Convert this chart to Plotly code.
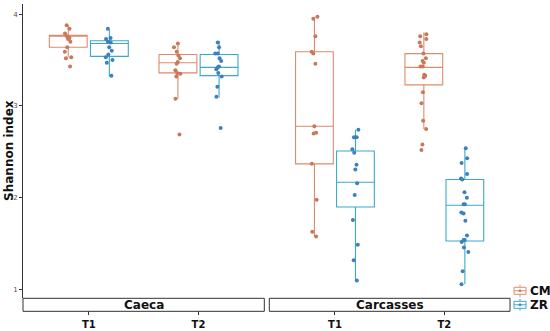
import plotly.graph_objects as go

# ---------------- data ----------------
times = ["T1", "T2"]
facets = ["Caeca", "Carcasses"]
series = ["CM", "ZR"]

# box statistics: [T1, T2] per facet
cm_caeca_q1 = [3.64, 3.36]
cm_caeca_med = [3.76, 3.47]
cm_caeca_q3 = [3.77, 3.56]
cm_caeca_lo = [3.53, 3.08]
cm_caeca_hi = [3.88, 3.68]

zr_caeca_q1 = [3.54, 3.33]
zr_caeca_med = [3.68, 3.42]
zr_caeca_q3 = [3.71, 3.56]
zr_caeca_lo = [3.32, 3.09]
zr_caeca_hi = [3.83, 3.71]

cm_carc_q1 = [2.37, 3.23]
cm_carc_med = [2.78, 3.42]
cm_carc_q3 = [3.59, 3.57]
cm_carc_lo = [1.58, 2.75]
cm_carc_hi = [3.97, 3.80]

zr_carc_q1 = [1.90, 1.53]
zr_carc_med = [2.17, 1.92]
zr_carc_q3 = [2.51, 2.20]
zr_carc_lo = [1.10, 1.06]
zr_carc_hi = [2.74, 2.54]

# individual samples
cm_caeca_t1 = [3.88, 3.84, 3.79, 3.76, 3.74, 3.73, 3.70, 3.64, 3.59, 3.53, 3.52, 3.43]
cm_caeca_t2 = [3.68, 3.64, 3.59, 3.55, 3.52, 3.48, 3.46, 3.39, 3.36, 3.35, 3.32, 3.08, 2.69]
zr_caeca_t1 = [3.84, 3.74, 3.73, 3.70, 3.69, 3.64, 3.60, 3.56, 3.53, 3.50, 3.47, 3.33]
zr_caeca_t2 = [3.69, 3.64, 3.57, 3.57, 3.52, 3.49, 3.43, 3.42, 3.40, 3.36, 3.32, 3.21, 3.10, 2.76]
cm_carc_t1 = [3.97, 3.95, 3.76, 3.59, 3.57, 3.46, 2.78, 2.71, 2.70, 2.37, 1.98, 1.63, 1.58]
cm_carc_t2 = [3.78, 3.76, 3.73, 3.69, 3.65, 3.57, 3.52, 3.49, 3.47, 3.43, 3.43, 3.34,
              3.33, 3.31, 3.15, 3.03, 2.84, 2.75, 2.58, 2.52]
zr_carc_t1 = [2.74, 2.66, 2.66, 2.53, 2.49, 2.36, 2.31, 2.16, 2.03, 1.76, 1.49, 1.32, 1.10]
zr_carc_t2 = [2.54, 2.43, 2.38, 2.26, 2.21, 2.20, 2.06, 2.00, 1.93, 1.93, 1.84, 1.83,
              1.75, 1.59, 1.54, 1.54, 1.52, 1.46, 1.41, 1.20, 1.06]

y_ticks = [1, 2, 3, 4]

# ---------------- styling ----------------
line_col = {"CM": "#DE8A6C", "ZR": "#3BA9CB"}
pt_col = {"CM": "#C9785A", "ZR": "#3C80BE"}
BOLD = dict(family="DejaVu Sans", color="#111111", weight="bold")

stats = {
    ("CM", "Caeca"): (cm_caeca_q1, cm_caeca_med, cm_caeca_q3, cm_caeca_lo, cm_caeca_hi),
    ("ZR", "Caeca"): (zr_caeca_q1, zr_caeca_med, zr_caeca_q3, zr_caeca_lo, zr_caeca_hi),
    ("CM", "Carcasses"): (cm_carc_q1, cm_carc_med, cm_carc_q3, cm_carc_lo, cm_carc_hi),
    ("ZR", "Carcasses"): (zr_carc_q1, zr_carc_med, zr_carc_q3, zr_carc_lo, zr_carc_hi),
}
points = {
    ("CM", "Caeca"): (cm_caeca_t1, cm_caeca_t2),
    ("ZR", "Caeca"): (zr_caeca_t1, zr_caeca_t2),
    ("CM", "Carcasses"): (cm_carc_t1, cm_carc_t2),
    ("ZR", "Carcasses"): (zr_carc_t1, zr_carc_t2),
}

fig = go.Figure()
for fi, facet in enumerate(facets):
    xa = "x" if fi == 0 else "x2"
    for s in series:
        q1, med, q3, lo, hi = stats[(s, facet)]
        fig.add_trace(go.Box(
            x=times, q1=q1, median=med, q3=q3, lowerfence=lo, upperfence=hi,
            name=s, showlegend=False, offsetgroup=s,
            xaxis=xa, yaxis="y",
            line=dict(color=line_col[s], width=1.1),
            fillcolor="rgba(255,255,255,0)", whiskerwidth=0,
            boxpoints=False, hoverinfo="skip",
        ))
        p1, p2 = points[(s, facet)]
        fig.add_trace(go.Box(
            x=[times[0]] * len(p1) + [times[1]] * len(p2), y=p1 + p2,
            name=s, showlegend=False, offsetgroup=s,
            xaxis=xa, yaxis="y",
            boxpoints="all", jitter=0.25, pointpos=0,
            marker=dict(color=pt_col[s], size=4),
            line=dict(width=0, color="rgba(0,0,0,0)"),
            fillcolor="rgba(0,0,0,0)", whiskerwidth=0, hoverinfo="y",
        ))

L, R, T, B = 23, 40, 4, 33.3
W, H = 550, 331
pw = W - L - R
ph = H - T - B
d1 = (264.3 - L) / pw
d2 = (269.3 - L) / pw


def px_x(px):
    return (px - L) / pw


def px_y(py):
    return (H - B - py) / ph


xcommon = dict(
    type="category", categoryorder="array", categoryarray=times,
    range=[-0.6, 1.6], showline=False, showgrid=False, zeroline=False,
    ticks="outside", ticklen=16, tickwidth=1, tickcolor="#333333",
    ticklabelstandoff=1,
    tickfont=dict(size=10, **BOLD),
    anchor="y", automargin=False,
)
fig.update_layout(
    width=W, height=H,
    margin=dict(l=L, r=R, t=T, b=B, pad=0, autoexpand=False),
    paper_bgcolor="white", plot_bgcolor="white",
    boxmode="group", boxgap=0.25, boxgroupgap=0.08,
    xaxis=dict(domain=[0, d1], **xcommon),
    xaxis2=dict(domain=[d2, 1], **xcommon),
    yaxis=dict(
        range=[0.91, 4.11], tickvals=y_ticks, showgrid=False, zeroline=False,
        showline=True, linecolor="#333333", linewidth=1, automargin=False,
        ticks="outside", ticklen=3, tickcolor="#333333",
        tickfont=dict(family="DejaVu Sans", size=7, color="#4d4d4d"),
        title=dict(text="Shannon index", standoff=2, font=dict(size=12, **BOLD)),
    ),
    showlegend=False,
)

# facet strips below the panels
strip_top = px_y(298.0)
strip_bot = px_y(311.0)
for fi, facet in enumerate(facets):
    x0, x1 = (0, d1) if fi == 0 else (d2, 1)
    fig.add_shape(type="rect", xref="paper", yref="paper",
                  x0=x0, x1=x1, y0=strip_bot, y1=strip_top,
                  line=dict(color="#333333", width=1), fillcolor="white", layer="above")
    fig.add_annotation(xref="paper", yref="paper", x=(x0 + x1) / 2,
                       y=(strip_top + strip_bot) / 2, text=facet, showarrow=False,
                       font=dict(size=12, **BOLD),
                       xanchor="center", yanchor="middle")

# legend (drawn as keys + text at the bottom right)
for i, s in enumerate(series):
    cy = 290.5 + 14 * i
    fig.add_shape(type="rect", xref="paper", yref="paper",
                  x0=px_x(514), x1=px_x(526), y0=px_y(cy + 3.5), y1=px_y(cy - 3.5),
                  line=dict(color=line_col[s], width=1), fillcolor="white", layer="above")
    fig.add_shape(type="line", xref="paper", yref="paper",
                  x0=px_x(514), x1=px_x(526), y0=px_y(cy), y1=px_y(cy),
                  line=dict(color=line_col[s], width=1), layer="above")
    for a, b in ((cy - 6, cy - 3.5), (cy + 3.5, cy + 6)):
        fig.add_shape(type="line", xref="paper", yref="paper",
                      x0=px_x(520), x1=px_x(520), y0=px_y(a), y1=px_y(b),
                      line=dict(color=line_col[s], width=1), layer="above")
    fig.add_shape(type="circle", xref="paper", yref="paper",
                  x0=px_x(518.6), x1=px_x(521.4), y0=px_y(cy + 1.4), y1=px_y(cy - 1.4),
                  line=dict(color=pt_col[s], width=0), fillcolor=pt_col[s], layer="above")
    fig.add_annotation(xref="paper", yref="paper", x=px_x(528), y=px_y(cy),
                       text=s, showarrow=False, xanchor="left", yanchor="middle",
                       font=dict(size=12, **BOLD))

# y-axis title placed as in the reference (left edge)
fig.update_yaxes(title_text="")
fig.add_annotation(xref="paper", yref="paper", x=px_x(9), y=px_y(150.8),
                   text="Shannon index", textangle=-90, showarrow=False,
                   xanchor="center", yanchor="middle", font=dict(size=12, **BOLD))

fig.write_html("out.html", config={"displayModeBar": False},
               post_script="document.body.style.margin='0';")
